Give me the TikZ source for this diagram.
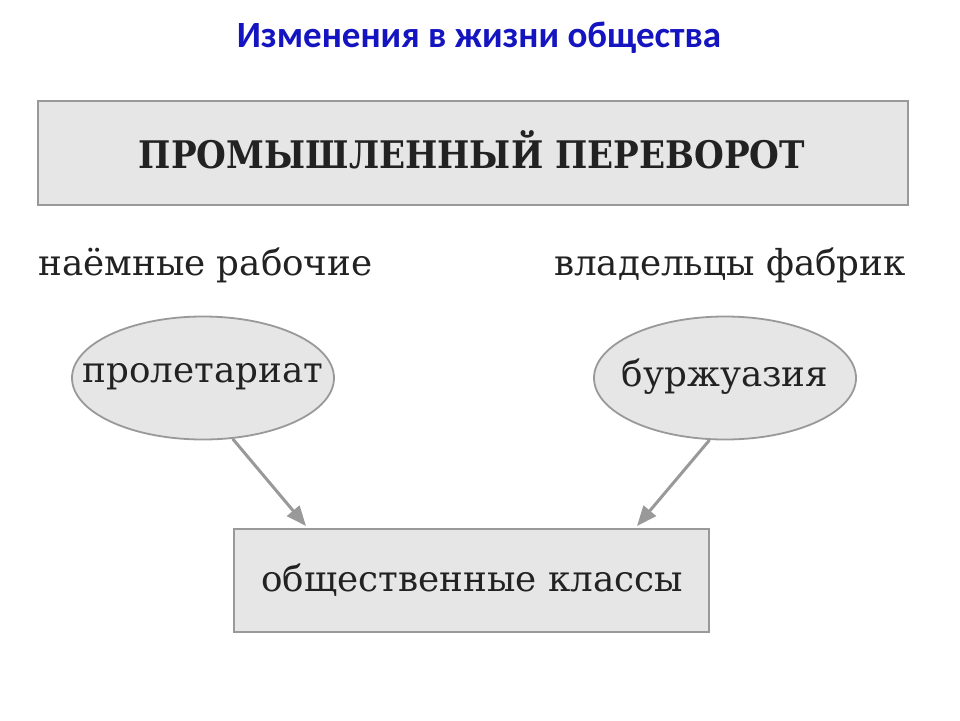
\documentclass[tikz,border=0pt]{standalone}
\usepackage{fontspec}
\setmainfont{DejaVu Serif}
\newfontfamily\titlefont{Carlito}
\usetikzlibrary{shapes.geometric,arrows.meta,calc}
\definecolor{boxfill}{HTML}{E6E6E6}
\definecolor{boxline}{HTML}{999999}
\definecolor{ink}{HTML}{222222}
\definecolor{titleblue}{HTML}{1414C0}
\begin{document}
\begin{tikzpicture}[x=1pt,y=-1pt,
  box/.style={draw=boxline,fill=boxfill,line width=2pt,inner sep=0pt},
  oval/.style={ellipse,draw=boxline,fill=boxfill,line width=1.8pt,inner sep=0pt,minimum width=262pt,minimum height=123pt},
  lbl/.style={text=ink,font=\fontsize{35.7}{40}\selectfont,inner sep=0pt},
  arr/.style={draw=boxline,line width=3pt,-{Triangle[length=20pt,width=16pt]}}]
\useasboundingbox (0,0) rectangle (960,720);
\fill[white] (0,0) rectangle (960,720);
\node[text=titleblue,font=\titlefont\bfseries\fontsize{37}{42}\selectfont,inner sep=0pt] (title) at (479,38) {Изменения в жизни общества};
\node[box,minimum width=870pt,minimum height=104pt] (top) at (473,153) {};
\node[text=ink,font=\bfseries\fontsize{38}{42}\selectfont,inner sep=0pt] (toptext) at (472,150) {\scalebox{0.9}[1]{ПРОМЫШЛЕННЫЙ ПЕРЕВОРОТ}};
\node[lbl,anchor=west] (hired) at (38,265) {наёмные рабочие};
\node[lbl,anchor=east] (owners) at (906,265) {владельцы фабрик};
\node[oval] (prol) at (203,378) {};
\node[lbl] (proltext) at (203,377) {пролетариат};
\node[oval] (burzh) at (725,378) {};
\node[lbl] (burzhtext) at (725,377) {буржуазия};
\node[box,minimum width=475pt,minimum height=103pt] (cls) at (471.5,580.5) {};
\node[lbl] (clstext) at (472,580) {общественные классы};
\draw[arr] (prol.-64) -- ($(cls.north west)+(73,-2)$);
\draw[arr] (burzh.-104) -- ($(cls.north west)+(404,-2)$);
\end{tikzpicture}
\end{document}
